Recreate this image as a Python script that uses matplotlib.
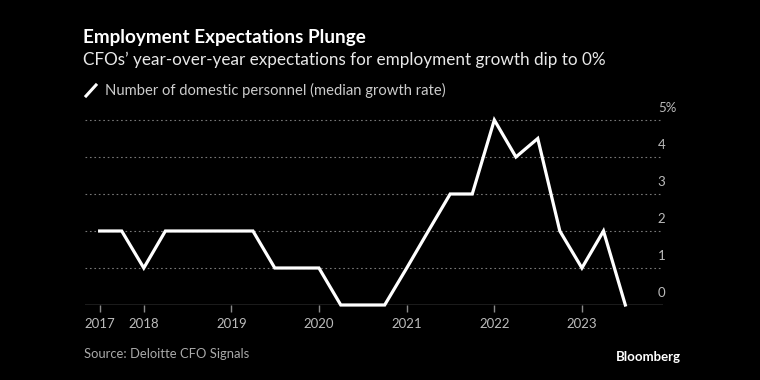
import pandas as pd
import matplotlib.pyplot as plt
from matplotlib.lines import Line2D
import matplotlib.dates as mdates

plt.rcParams['font.family'] = ['Lato', 'DejaVu Sans']

# quarterly survey dates and median expected growth (%)
quarters = pd.date_range("2017-07-01", "2023-07-01", freq="QS")
growth = [2, 2, 1, 2, 2, 2, 2, 2, 1, 1, 1, 0, 0, 0, 1, 2, 3, 3, 5, 4, 4.5, 2, 1, 2, 0]
year_ticks = ["2017-07-01", "2018-01-01", "2019-01-01", "2020-01-01",
              "2021-01-01", "2022-01-01", "2023-01-01"]
year_labels = ["2017", "2018", "2019", "2020", "2021", "2022", "2023"]
y_ticks = [0, 1, 2, 3, 4, 5]
y_labels = ["0", "1", "2", "3", "4", "5%"]

fig = plt.figure(figsize=(7.6, 3.8), dpi=100, facecolor='black')
ax = fig.add_axes([85/760, 1-305/380, 578/760, 195/380], facecolor='black')

ax.plot(quarters, growth, color='white', lw=2.3, solid_joinstyle='miter', zorder=3, clip_on=False)

ax.set_xlim(pd.Timestamp("2017-05-01"), pd.Timestamp("2023-12-05"))
ax.set_ylim(0, 5.27)

for v in y_ticks[1:]:
    ax.axhline(v, color='#777777', lw=0.8, ls=(0, (1.5, 2.5)), zorder=1)
ax.axhline(0, color='#8a8a8a', lw=1.0, zorder=2)

for v, lab in zip(y_ticks, y_labels):
    ax.annotate(lab, xy=(0.991, v), xycoords=('axes fraction', 'data'),
                xytext=(0, 4), textcoords='offset points',
                ha='left', va='bottom', color='#bbbbbb', fontsize=9.5)

ax.set_xticks(pd.to_datetime(year_ticks))
ax.set_xticklabels(year_labels)
ax.set_yticks([])
ax.tick_params(axis='x', colors='#8a8a8a', length=5, width=1, labelcolor='#bbbbbb',
               labelsize=9.5, pad=4)
for s in ax.spines.values():
    s.set_visible(False)

fig.text(83/760, 1-38/380, "Employment Expectations Plunge", color='white',
         fontsize=13.6, fontweight='bold', va='center', ha='left')
fig.text(83/760, 1-60/380, "CFOs’ year-over-year expectations for employment growth dip to 0%",
         color='#e8e8e8', fontsize=12.3, va='center', ha='left')
fig.add_artist(Line2D([86/760, 96/760], [1-96/380, 1-85/380], color='white', lw=2.2,
                      transform=fig.transFigure))
fig.text(105/760, 1-90/380, "Number of domestic personnel (median growth rate)",
         color='#cccccc', fontsize=10.6, va='center', ha='left')
fig.text(84/760, 1-354/380, "Source: Deloitte CFO Signals", color='#aaaaaa',
         fontsize=9.4, va='center', ha='left')
fig.text(681/760, 1-357/380, "Bloomberg", color='white', fontsize=9.5,
         fontweight='bold', va='center', ha='right')

fig.savefig("out.png", dpi=100, facecolor='black')
